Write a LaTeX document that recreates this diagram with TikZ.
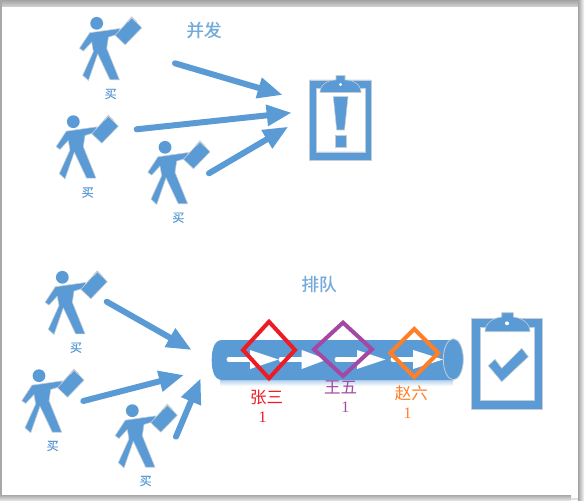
\documentclass[tikz,border=0pt]{standalone}
\usepackage{fontspec}
\newfontfamily\cjk{Noto Sans CJK SC}
\newfontfamily\cjkmid[FakeBold=0.6]{Noto Sans CJK SC}
\newfontfamily\numfont{Liberation Serif}
\usetikzlibrary{arrows.meta,calc}
\definecolor{bl}{HTML}{5B9BD5}
\definecolor{edge}{HTML}{C4CDD6}
\definecolor{rd}{HTML}{ED1C24}
\definecolor{pp}{HTML}{A349A4}
\definecolor{og}{HTML}{FF7F27}
\tikzset{
  x=1pt,y=-1pt,
  shape fill/.style={fill=bl,draw=edge,line width=0.6pt,line join=round},
  flow/.style={draw=bl,line width=6pt,line cap=round,-{Triangle[length=25pt,width=20pt,sharp]}},
  buy/.style={font=\cjkmid\fontsize{12}{12}\selectfont,text=bl,inner sep=0pt},
  title/.style={font=\cjkmid\fontsize{17.5}{18}\selectfont,text=bl!85,inner sep=0pt},
  who/.style={font=\cjk\fontsize{16.5}{17}\selectfont,inner sep=0pt},
  num/.style={font=\numfont\fontsize{16}{16}\selectfont,inner sep=0pt},
  mark box/.style={line width=4pt,miter limit=10},
  inner arrow/.style={draw=white,line width=5pt,line cap=round},
  person/.pic={
    \fill[bl] (0,0) circle (6.4);
    \path[shape fill] (-7,9.5) -- (23.3,5.2) -- (21.5,10.8) -- (11.7,13.8) -- (10,25) -- (22.7,56.5)
      -- (13.3,56.5) -- (1,30.5) -- (-8.3,57.2) -- (-14,52) -- (-3.3,28.3) -- (-5,18.8)
      -- (-13.3,27.8) -- (-17.2,25) -- cycle;
    \path[shape fill] (18.5,12) -- (35,-6) -- (45,4.5) -- (28.5,21.5) -- cycle;
    \draw[edge,line width=1.4pt] (31,-1.5) -- (35,-6) -- (40,-1);
  }
}
\begin{document}
\begin{tikzpicture}
\useasboundingbox (0,0) rectangle (585,502);
\fill[white] (0,0) rectangle (585,502);
% page shadow
\shade[top color=black!36,bottom color=black!18] (0,0) rectangle (578,6.5);
\fill[black!34] (0,0) rectangle (2,498);
\shade[left color=black!36,right color=black!3] (578,0) rectangle (584,500);
\shade[top color=black!32,bottom color=black!12] (0,495.5) rectangle (571,500);
\fill[black!12] (571,498) rectangle (578,500);

% people
\pic at (96.7,23.3) {person};
\pic at (73.3,121.7) {person};
\pic at (165,147.3) {person};
\pic at (62.3,277.3) {person};
\pic at (39,375.7) {person};
\pic at (132.3,410.7) {person};

% labels
\node[buy] (b1) at (110.7,94) {买};
\node[buy] (b2) at (87.7,192.5) {买};
\node[buy] (b3) at (178.3,217.7) {买};
\node[buy] (b4) at (76,347.7) {买};
\node[buy] (b5) at (52.7,446) {买};
\node[buy] (b6) at (145.7,481) {买};
\node[title] (t1) at (204,30) {并发};
\node[title] (t2) at (319,284) {排队};

% arrow ends
\coordinate (a1s) at (175,63.3);  \coordinate (a1e) at (282.7,95);
\coordinate (a2s) at (136.7,129.3); \coordinate (a2e) at (291.7,112.7);
\coordinate (a3s) at (209,173.3); \coordinate (a3e) at (288.3,126.7);
\coordinate (a4s) at (106.7,301.7); \coordinate (a4e) at (191.7,350);
\coordinate (a5s) at (83.3,401);  \coordinate (a5e) at (184,375);
\coordinate (a6s) at (176,436.7); \coordinate (a6e) at (200.7,378.3);
\foreach \n in {1,...,6} \draw[flow] (a\n s) -- (a\n e);

% clipboard with exclamation
\path[shape fill,even odd rule] (309.3,80) rectangle (371,160) (316.7,88) rectangle (365.5,152);
\path[shape fill] (320,92.5) .. controls (320,85) and (327,80) .. (336,80) -- (336,75.5) -- (345,75.5) -- (345,80)
  .. controls (354,80) and (361,85) .. (361,92.5) -- cycle;
\fill[white] (340.5,84.5) circle (1.6);
\path[shape fill] (333.3,96.7) -- (348,96.7) -- (344.5,130) -- (336.7,130) -- cycle;
\path[shape fill] (335.5,135) rectangle (346,147);

% clipboard with check
\path[shape fill,even odd rule] (471.7,318.3) rectangle (542.3,409) (480.7,327.3) rectangle (534.7,400);
\path[shape fill] (485,331.7) .. controls (485,323) and (493,318) .. (501.7,317) -- (501.7,312.7) -- (513.3,312.7) -- (513.3,317)
  .. controls (522,318) and (530,323) .. (530,331.7) -- cycle;
\fill[white] (507,323.3) circle (2);
\path[shape fill] (488.3,365.7) -- (495,359.3) -- (501.7,368.3) -- (521.7,348.3) -- (528.3,356.7) -- (501.7,381.7) -- cycle;

% pipe
\shade[top color=bl!45,bottom color=white] (220,380) rectangle (453,386);
\fill[bl] (222,340) -- (453.3,340) -- (453.3,380) -- (222,380)
  .. controls (215,380) and (211.7,372) .. (211.7,360) .. controls (211.7,348) and (215,340) .. (222,340) -- cycle;
\path[fill=bl,draw=edge,line width=0.8pt] (453.3,359.3) ellipse [x radius=10,y radius=20.5];

% arrows inside the pipe
\foreach \a/\b/\c/\d in {229/250/250/278.3,281/301.7/301.7/327,337/357/357/385.3,393/413/413/443}{
  \draw[inner arrow] (\a,359.5) -- (\b,359.5);
  \fill[white] (\c,350) -- (\d,359.5) -- (\c,369) -- cycle;
}

% queue markers
\draw[rd,mark box] (269,321.7) -- (295,350) -- (269,378.3) -- (243,350) -- cycle;
\draw[pp,mark box] (343,322.6) -- (372,349.3) -- (343,376) -- (314,349.3) -- cycle;
\draw[og,mark box] (414.3,329) -- (438.3,353) -- (414.3,377) -- (390.3,353) -- cycle;

\node[who,text=rd] (n1) at (266.7,397) {张三};
\node[num,text=rd] (v1) at (262.7,417.3) {1};
\node[who,text=pp] (n2) at (340.7,387.3) {王五};
\node[num,text=pp] (v2) at (345.3,407.3) {1};
\node[who,text=og] (n3) at (411.3,393.3) {赵六};
\node[num,text=og] (v3) at (407.7,413.3) {1};
\end{tikzpicture}
\end{document}
